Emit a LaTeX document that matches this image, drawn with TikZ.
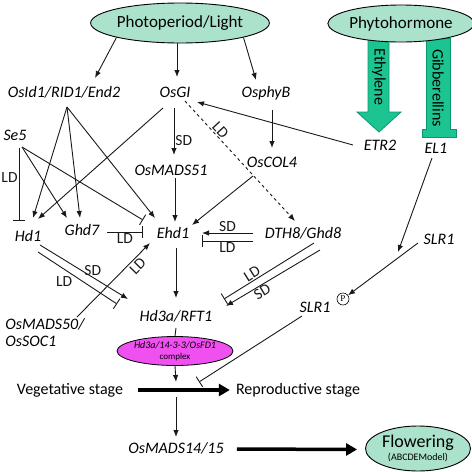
\documentclass[tikz,border=0pt]{standalone}
\usepackage{fontspec}
\setmainfont{Carlito}
\newfontfamily\phosfont{Liberation Serif}
\usepackage{tikz}
\usetikzlibrary{calc}
\usetikzlibrary{arrows.meta}
\usetikzlibrary{shapes.geometric}

\definecolor{mint}{RGB}{170,226,203}
\definecolor{hormone}{RGB}{28,196,146}
\definecolor{hormoneline}{RGB}{12,150,110}
\definecolor{cplxpink}{RGB}{240,80,240}

\begin{document}
\begin{tikzpicture}[x=1pt, y=-1pt, >={Latex[length=7pt,width=5.5pt]},
    gene/.style={font=\fontsize{16}{17}\selectfont\itshape, inner sep=1pt},
    plain/.style={font=\fontsize{16}{18}\selectfont, inner sep=1pt},
    cond/.style={font=\fontsize{15.5}{16}\selectfont, inner sep=1pt},
    oval/.style={ellipse, draw=black, line width=0.9pt, fill=mint, inner sep=0pt},
    link/.style={line width=0.9pt, black!90},
    inh/.style={link, -{Bar[width=12pt]}},
    bold/.style={line width=3.5pt, -{Triangle[length=11pt,width=12pt]}},
]
    \useasboundingbox (0,0) rectangle (472,472);

    % 激素通路的粗箭头
    \filldraw[fill=hormone, draw=hormoneline, line width=0.8pt]
        (368,38) -- (389,38) -- (389,112) -- (401,112) -- (379,132)
        -- (357,112) -- (368,112) -- cycle;
    \filldraw[fill=hormone, draw=hormoneline, line width=0.8pt]
        (426,38) -- (450,38) -- (450,129) -- (456,129) -- (456,137)
        -- (422,137) -- (422,129) -- (426,129) -- cycle;
    \node[plain, rotate=-90] (ethy) at (379,77) {Ethylene};
    \node[plain, rotate=-90] (gibb) at (438,88) {Gibberellins};

    % 椭圆
    \node[oval, minimum width=156, minimum height=40] (photo) at (180,23)
        {\fontsize{17}{18}\selectfont Photoperiod/Light};
    \node[oval, minimum width=133, minimum height=37] (hormo) at (401,23.5)
        {\fontsize{17}{18}\selectfont Phytohormone};

    % 基因
    \node[gene] (osid)  at (64,92)   {OsId1/RID1/End2};
    \node[gene] (osgi)  at (175,92)  {OsGI};
    \node[gene] (phyb)  at (266,93)  {OsphyB};
    \node[gene] (etr)   at (380,145) {ETR2};
    \node[gene] (el)    at (436,148) {EL1};
    \node[gene] (se)    at (15,135)  {Se5};
    \node[gene] (mads51) at (171,170) {OsMADS51};
    \node[gene] (col)   at (272,162) {OsCOL4};
    \node[gene] (hd1)   at (28,236)  {Hd1};
    \node[gene] (ghd7)  at (82,230)  {Ghd7};
    \node[gene] (ehd)   at (173,233) {Ehd1};
    \node[gene] (dth)   at (303,233) {DTH8/Ghd8};
    \node[gene] (slra)  at (439,239) {SLR1};
    \node[gene] (slrb)  at (315,307) {SLR1};
    \node[gene] (hd3a)  at (176,316) {Hd3a/RFT1};
    \node[gene, align=left] (mads50) at (45,333) {OsMADS50/\\OsSOC1};
    \node[gene] (mads14) at (176,448) {OsMADS14/15};
    \node[circle, draw, line width=0.6pt, inner sep=0.3pt, minimum size=12pt,
        font=\phosfont\fontsize{9}{9}\selectfont] (phos) at (343,299) {P};
    \node[ellipse, draw=black, line width=0.8pt, fill=cplxpink, inner sep=0pt,
        minimum width=110, minimum height=29, align=center] (cplx) at (175,351)
        {{\fontsize{10}{10}\selectfont\itshape Hd3a/14-3-3/OsFD1}\\[-1pt]
         {\fontsize{9}{9}\selectfont complex}};
    \node[plain] (veg) at (70,390)  {Vegetative stage};
    \node[plain] (rep) at (298,390) {Reproductive stage};
    \node[oval, minimum width=105, minimum height=45, align=center] (flow) at (418,448.5)
        {{\fontsize{18}{18}\selectfont Flowering}\\[1pt]
         {\fontsize{10}{10}\selectfont (ABCDEModel)}};
    \coordinate (hub) at (176,390);

    % 光周期
    \draw[link, ->] (photo.south west) -- ($(osid)+(31,-14)$);
    \draw[link, ->] ($(photo.south)+(-3,0)$) -- ($(osgi)+(2,-15)$);
    \draw[link, ->] (photo.south east) -- ($(phyb)+(-10,-13)$);
    \draw[link, ->] ($(phyb)+(6,17)$) -- ($(col)+(0,-14)$);
    \draw[link, ->] ($(osgi)+(-1,16)$) -- ($(mads51)+(3,-15)$)
        node[cond, pos=0.7, right] {SD};
    \draw[link, ->, dashed] ($(osgi)+(10,9)$) -- ($(dth)+(-8,-12)$)
        node[cond, pos=0.28, above, sloped] {LD};
    \draw[link, ->] ($(etr)+(-27,0)$) -- ($(osgi)+(22,10)$);

    % 指向 Hd1, Ghd7, Ehd1
    \draw[link, ->] ($(osid)+(3,15)$) -- ($(hd1)+(5,-18)$);
    \draw[link, ->] ($(osid)+(3,15)$) -- ($(ghd7)+(-2,-12)$);
    \draw[link, ->] ($(osid)+(3,15)$) -- ($(ehd)+(-18,-15)$);
    \draw[link, ->] ($(osgi)+(-12,16)$) -- ($(hd1)+(10,-17)$);
    \draw[inh] ($(se)+(4,13)$) -- ($(hd1)+(-9,-15)$)
        node[cond, pos=0.4, left] {LD};
    \draw[link, ->] ($(se)+(7,12)$) -- ($(ghd7)+(-15,-12)$);
    \draw[inh] ($(se)+(7,12)$) -- ($(ehd)+(-30,-13)$);
    \draw[inh] ($(ghd7)+(25,2)$) -- ($(ehd)+(-30,-1)$)
        node[cond, midway, below] {LD};
    \draw[link, ->] ($(mads51)+(4,8)$) -- ($(ehd)+(2,-11)$);
    \draw[link, ->] ($(col)+(-19,14)$) -- ($(ehd)+(19,-8)$);
    \draw[link, ->] ($(dth)+(-50,0)$) -- ($(ehd)+(29,0)$)
        node[cond, midway, above] {SD};
    \draw[inh] ($(dth)+(-50,8)$) -- ($(ehd)+(29,8)$)
        node[cond, midway, below] {LD};
    \draw[link, ->] ($(mads50)+(32,-16)$) -- ($(ehd)+(-23,10)$)
        node[cond, pos=0.76, below=1pt, sloped] {LD};

    % 指向 Hd3a/RFT1
    \draw[link, ->] ($(hd1)+(12,9)$) -- ($(hd3a)+(-48,-17)$)
        node[cond, pos=0.6, above] {SD};
    \draw[inh] ($(hd1)+(10,16)$) -- ($(hd3a)+(-59,-12)$)
        node[cond, pos=0.45, below left] {LD};
    \draw[link, {Bar[width=12pt]}-] ($(hd3a)+(48,-17)$) -- ($(dth)+(11,10)$)
        node[cond, pos=0.35, above, sloped] {LD};
    \draw[link, <-] ($(hd3a)+(50,-10)$) -- ($(dth)+(17,17)$)
        node[cond, pos=0.35, below, sloped] {SD};
    \draw[link, ->] ($(ehd)+(3,15)$) -- ($(hd3a)+(0,-18)$);

    % SLR1
    \draw[link, ->] ($(el)+(-4,10)$) -- ($(slra)+(-41,13)$);
    \draw[link, ->] ($(slra)+(-21,4)$) -- (phos);
    \draw[inh] ($(slrb)+(-13,9)$) -- ($(hub)+(23,-8)$);

    % 开花
    \draw[link] ($(hd3a)+(0,12)$) -- (cplx.north);
    \draw[link, ->] (cplx.south) -- ($(hub)+(0,-8)$);
    \draw[link, ->] ($(hub)+(0,7)$) -- ($(mads14)+(0,-11)$);
    \draw[bold] ($(veg.east)+(14,0)$) -- ($(rep.west)+(-5,0)$);
    \draw[bold] ($(mads14.east)+(12,1)$) -- ($(flow.west)+(-8,1)$);

\end{tikzpicture}
\end{document}
